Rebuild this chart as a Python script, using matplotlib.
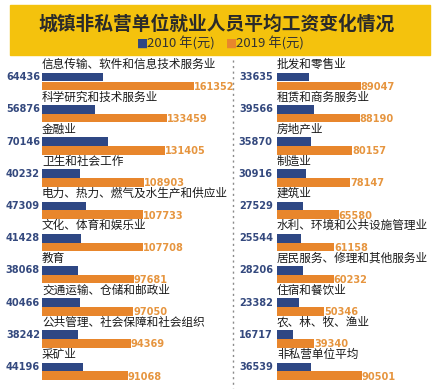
import matplotlib
matplotlib.use("Agg")
import matplotlib.pyplot as plt
from matplotlib.lines import Line2D
from matplotlib.patches import Rectangle

plt.rcParams["font.family"] = ["Noto Sans CJK SC", "DejaVu Sans"]

# ---- data ----
left_cats = ["信息传输、软件和信息技术服务业", "科学研究和技术服务业", "金融业",
             "卫生和社会工作", "电力、热力、燃气及水生产和供应业", "文化、体育和娱乐业",
             "教育", "交通运输、仓储和邮政业", "公共管理、社会保障和社会组织", "采矿业"]
left_2010 = [64436, 56876, 70146, 40232, 47309, 41428, 38068, 40466, 38242, 44196]
left_2019 = [161352, 133459, 131405, 108903, 107733, 107708, 97681, 97050, 94369, 91068]

right_cats = ["批发和零售业", "租赁和商务服务业", "房地产业", "制造业", "建筑业",
              "水利、环境和公共设施管理业", "居民服务、修理和其他服务业", "住宿和餐饮业",
              "农、林、牧、渔业", "非私营单位平均"]
right_2010 = [33635, 39566, 35870, 30916, 27529, 25544, 28206, 23382, 16717, 36539]
right_2019 = [89047, 88190, 80157, 78147, 65580, 61158, 60232, 50346, 39340, 90501]

TITLE = "城镇非私营单位就业人员平均工资变化情况"
LEG_2010 = "2010 年(元)"
LEG_2019 = "2019 年(元)"

# ---- style ----
W, H, DPI = 434, 390, 100
BLUE = "#2E4784"
ORANGE = "#E8862C"
BLUE_TXT = "#34497E"
ORANGE_TXT = "#E6953F"
YELLOW = "#F4C20D"
YUAN_PER_PX = 1065
PITCH = 32.2      # px between rows
ROW0 = 81.5       # px (from top) of first row centre
BAR_H = 0.27


def px_rect(x0, x1, y_top, y_bot):
    return [x0 / W, 1 - y_bot / H, (x1 - x0) / W, (y_bot - y_top) / H]


fig = plt.figure(figsize=(W / DPI, H / DPI), dpi=DPI)
fig.patch.set_facecolor("white")

# title banner
fig.patches.append(Rectangle((10 / W, 1 - 55 / H), 420 / W, 50 / H,
                             transform=fig.transFigure, color=YELLOW, zorder=0))
fig.text(0.5, 1 - 24 / H, TITLE, ha="center", va="center", fontsize=13.5,
         fontweight="bold", color="#2a2a2a")
fig.text(137 / W, 1 - 43 / H, "■", ha="left", va="center", fontsize=8.5,
         color=BLUE, family="DejaVu Sans")
fig.text(147 / W, 1 - 43 / H, LEG_2010, ha="left", va="center", fontsize=9.5,
         color="#333333")
fig.text(226 / W, 1 - 43 / H, "■", ha="left", va="center", fontsize=8.5,
         color=ORANGE, family="DejaVu Sans")
fig.text(236 / W, 1 - 43 / H, LEG_2019, ha="left", va="center", fontsize=9.5,
         color="#333333")

# dashed separator
fig.add_artist(Line2D([233 / W, 233 / W], [1 - 60 / H, 1 - 388 / H],
                      transform=fig.transFigure, color="#8a8a8a", lw=1.0,
                      linestyle=(0, (1.5, 2.5))))


def panel(x_left, x_right, cats, v10, v19, lab_gap):
    ax = fig.add_axes(px_rect(x_left, x_right, 55, 390))
    ax.set_xlim(0, (x_right - x_left) * YUAN_PER_PX)
    ax.set_ylim((390 - ROW0) / PITCH, (55 - ROW0) / PITCH)
    ax.axis("off")
    ys = list(range(len(cats)))
    ax.barh([y - BAR_H / 2 for y in ys], v10, height=BAR_H, color=BLUE, left=0)
    ax.barh([y + BAR_H / 2 for y in ys], v19, height=BAR_H, color=ORANGE, left=0)
    for y, c, a, b in zip(ys, cats, v10, v19):
        ax.text(0, y - 0.52, c, ha="left", va="center", fontsize=8.4, color="#1a1a1a")
        ax.annotate(str(a), (0, y - BAR_H / 2), xytext=(-lab_gap, 0),
                    textcoords="offset points", ha="right", va="center",
                    fontsize=7.8, fontweight="bold", color=BLUE_TXT,
                    fontstretch="condensed", family="DejaVu Sans", annotation_clip=False)
        ax.annotate(str(b), (b, y + BAR_H / 2 + 0.03), xytext=(0, 0),
                    textcoords="offset points", ha="left", va="center",
                    fontsize=7.8, fontweight="bold", color=ORANGE_TXT,
                    fontstretch="condensed", family="DejaVu Sans", annotation_clip=False)
    return ax


panel(42, 232, left_cats, left_2010, left_2019, 1.5)
panel(277, 432, right_cats, right_2010, right_2019, 3)

fig.savefig("out.png", dpi=DPI, facecolor="white")
